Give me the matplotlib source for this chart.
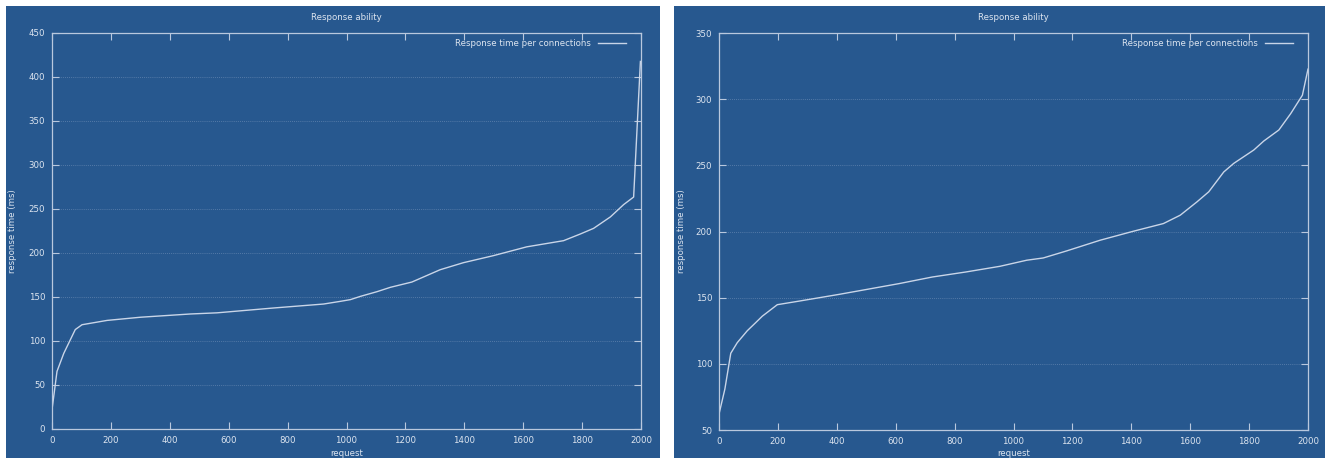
import matplotlib
matplotlib.use("Agg")
import matplotlib.pyplot as plt
from matplotlib.patches import Rectangle

# ---- data ----
left_requests = [0, 17, 40, 79, 102, 187, 300, 470, 560, 752, 922, 978, 1013, 1047, 1103,
                 1149, 1222, 1318, 1397, 1499, 1612, 1737, 1794, 1839, 1896, 1941, 1975, 1998]
left_times = [22, 65.5, 86, 113, 118.5, 123.4, 127, 130.7, 132, 137.5, 142, 145, 147, 150.7, 156,
              161, 167, 181, 189, 197, 207, 214, 221.6, 228, 241, 255, 263.6, 417.7]

right_requests = [0, 20, 40, 62, 96, 124, 147, 198, 272, 408, 611, 724, 838, 954, 1045, 1101,
                  1180, 1294, 1407, 1509, 1566, 1623, 1663, 1714, 1748, 1816, 1850, 1901, 1941,
                  1981, 2000]
right_times = [62, 81, 108, 116, 125, 131, 136, 144.7, 147.4, 152.5, 160.6, 165.6, 169.4, 173.7,
               178.3, 180, 185.3, 193.4, 200.2, 206, 212.3, 222.4, 230, 245, 251.5, 261.6, 268.4,
               276.7, 289, 303, 322.7]

left_yticks = [0, 50, 100, 150, 200, 250, 300, 350, 400, 450]
right_yticks = [50, 100, 150, 200, 250, 300, 350]
xticks = [0, 200, 400, 600, 800, 1000, 1200, 1400, 1600, 1800, 2000]

title = "Response ability"
xlabel = "request"
ylabel = "response time (ms)"
series_name = "Response time per connections"

BG = "#27588f"
FG = "#dde5f0"
AX = "#b9c8de"
LINE = "#c9d5e8"
GRID = "#8aa3c6"

W, H = 1333, 459
fig = plt.figure(figsize=(W / 100, H / 100), dpi=100, facecolor="white")

def px(x0, y0, x1, y1):
    return [x0 / W, 1 - y1 / H, (x1 - x0) / W, (y1 - y0) / H]

panels = [
    dict(bg=(6, 6, 660, 458), ax=(52, 33, 641, 429), x=left_requests, y=left_times,
         yticks=left_yticks),
    dict(bg=(674, 6, 1325, 458), ax=(719, 33, 1308, 430), x=right_requests, y=right_times,
         yticks=right_yticks),
]

FS = 6.2
for p in panels:
    b = px(*p["bg"])
    fig.add_artist(Rectangle((b[0], b[1]), b[2], b[3], transform=fig.transFigure,
                             facecolor=BG, edgecolor="none", zorder=0))
    ax = fig.add_axes(px(*p["ax"]))
    ax.set_facecolor(BG)
    ax.plot(p["x"], p["y"], color=LINE, lw=1.0, label=series_name)
    ax.set_xlim(0, 2000)
    ax.set_ylim(p["yticks"][0], p["yticks"][-1])
    ax.set_xticks(xticks)
    ax.set_yticks(p["yticks"])
    ax.tick_params(direction="in", length=4.8, width=0.8, color=AX, labelcolor=FG,
                   labelsize=FS, pad=5, top=True, right=True)
    for s in ax.spines.values():
        s.set_color(AX)
        s.set_linewidth(0.9)
    ax.grid(axis="y", color=GRID, linestyle=(0, (1, 1.5)), linewidth=0.6, alpha=0.6)
    ax.set_axisbelow(True)
    cx = (p["ax"][0] + p["ax"][2]) / 2
    fig.text(cx / W, 1 - 17 / H, title, color=FG, fontsize=FS, ha="center", va="center")
    fig.text(cx / W, 1 - 453 / H, xlabel, color=FG, fontsize=FS, ha="center", va="center")
    fig.text((p["bg"][0] + 7) / W, 1 - ((p["ax"][1] + p["ax"][3]) / 2) / H, ylabel, color=FG,
             fontsize=FS, ha="center", va="center", rotation=90)
    leg = ax.legend(loc="upper right", frameon=False, markerfirst=False, fontsize=FS,
                    handlelength=3.3, borderaxespad=0.3, labelcolor=FG,
                    bbox_to_anchor=(0.985, 1.0))

fig.savefig("out.png", dpi=100, facecolor="white")
